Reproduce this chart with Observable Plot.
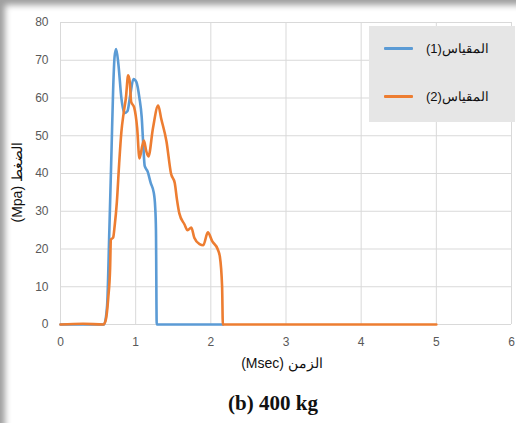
<!DOCTYPE html>
<html>
<head>
<meta charset="utf-8">
<script src="https://cdn.jsdelivr.net/npm/d3@7"></script>
<script src="https://cdn.jsdelivr.net/npm/@observablehq/plot@0.6"></script>
<style>
  html, body { margin: 0; padding: 0; background: #fff; }
  #wrap { position: relative; width: 516px; height: 423px; overflow: hidden; background: #fff; }
  #shade { position: absolute; left: 0; top: 0; width: 530px; height: 440px; box-shadow: inset 6px 6px 6px -1px rgba(0,0,0,0.38); pointer-events: none; z-index: 5; }
  #legend { position: absolute; left: 369px; top: 26px; width: 146px; height: 96px; background: #e6e6e6; font-family: "Liberation Sans", Arial, sans-serif; font-size: 13px; color: #111; }
  .row { position: absolute; left: 15px; display: flex; align-items: center; }
  .sw { width: 29px; height: 3px; margin-right: 13px; border-radius: 1px; }
  #caption { position: absolute; left: 0; top: 391px; width: 546px; text-align: center; font-family: "Liberation Serif", "Times New Roman", serif; font-weight: bold; font-size: 21px; color: #111; }
</style>
</head>
<body>
<div id="wrap">
  <div id="chart"></div>
  <div id="legend">
    <div class="row" style="top:15px"><div class="sw" style="background:#5B9BD5"></div><span>(1)المقياس</span></div>
    <div class="row" style="top:63px"><div class="sw" style="background:#ED7D31"></div><span>(2)المقياس</span></div>
  </div>
  <div id="caption">(b) 400 kg</div>
  <div id="shade"></div>
</div>
<script>
const series1Name = "(1)المقياس";
const series2Name = "(2)المقياس";
const blueTime =     [0, 0.3, 0.58, 0.62, 0.65, 0.68, 0.70, 0.72, 0.74, 0.77, 0.81, 0.85, 0.89, 0.93, 0.97, 1.01, 1.05, 1.08, 1.10, 1.12, 1.16, 1.20, 1.24, 1.26, 1.27, 1.28, 2.16];
const bluePressure = [0, 0,   0,    5,    25,   47,   62,   71,   73,   69,   60,   56,   56.5, 61,   65,   64.2, 60,   55,   48,   42,   40.5, 37.5, 35,   31,   25,   0,    0];
const orangeTime =     [0, 0.3, 0.57, 0.6, 0.635, 0.66, 0.67, 0.70, 0.72, 0.75, 0.78, 0.81, 0.84, 0.87, 0.90, 0.92, 0.94, 0.98, 1.02, 1.05, 1.09, 1.11, 1.14, 1.17, 1.23, 1.30, 1.34, 1.41, 1.47, 1.52, 1.55, 1.58, 1.65, 1.69, 1.74, 1.78, 1.85, 1.90, 1.96, 2.02, 2.09, 2.12, 2.15, 2.16, 5];
const orangePressure = [0, 0.2, 0,    1,   7,     15,   22.5, 23,   26,   32.5, 42.5, 51,   56,   60,   66,   64.5, 59,   57.5, 52,   44,   47.5, 48.7, 46,   44.5, 52,   58,   54.5, 48.5, 40,   37.5, 33,   29.5, 26.5, 25,   25.7, 23,   21.3, 21,   24.4, 22,   20,   18,   10,   0,    0];
const xTicks = [0, 1, 2, 3, 4, 5, 6];
const yTicks = [0, 10, 20, 30, 40, 50, 60, 70, 80];
const xTitle = "(Msec) الزمن";
const yTitle = "(Mpa) الضغط";

const s1 = blueTime.map((t, i) => ({t, p: bluePressure[i], s: series1Name}));
const s2 = orangeTime.map((t, i) => ({t, p: orangePressure[i], s: series2Name}));

const chart = Plot.plot({
  width: 516,
  height: 380,
  marginLeft: 60,
  marginRight: 5,
  marginTop: 22,
  marginBottom: 56,
  style: {fontFamily: "'Liberation Sans', Arial, sans-serif", fontSize: "12px", color: "#595959", background: "transparent"},
  x: {domain: [0, 6], ticks: xTicks, tickSize: 0, tickPadding: 13, label: null, tickFormat: "d"},
  y: {domain: [0, 80], ticks: yTicks, tickSize: 0, tickPadding: 12, label: null, tickFormat: "d"},
  marks: [
    Plot.gridX(xTicks, {stroke: "#d9d9d9", strokeOpacity: 1, strokeWidth: 1}),
    Plot.gridY(yTicks, {stroke: "#d9d9d9", strokeOpacity: 1, strokeWidth: 1}),
    Plot.axisX({ticks: xTicks, tickSize: 0, tickPadding: 13, label: null, tickFormat: "d", fill: "#595959"}),
    Plot.axisY({ticks: yTicks, tickSize: 0, tickPadding: 12, label: null, tickFormat: "d", fill: "#595959"}),
    Plot.line(s1, {x: "t", y: "p", stroke: "#5B9BD5", strokeWidth: 2.6, curve: "monotone-x"}),
    Plot.line(s2, {x: "t", y: "p", stroke: "#ED7D31", strokeWidth: 2.6, curve: "monotone-x"}),
    Plot.text([xTitle], {frameAnchor: "bottom", dy: 43, dx: -4, fill: "#111", fontSize: 14}),
    Plot.text([yTitle], {frameAnchor: "left", rotate: -90, dx: -43, dy: 49, fill: "#111", fontSize: 14})
  ]
});
document.getElementById("chart").appendChild(chart);
</script>
</body>
</html>
